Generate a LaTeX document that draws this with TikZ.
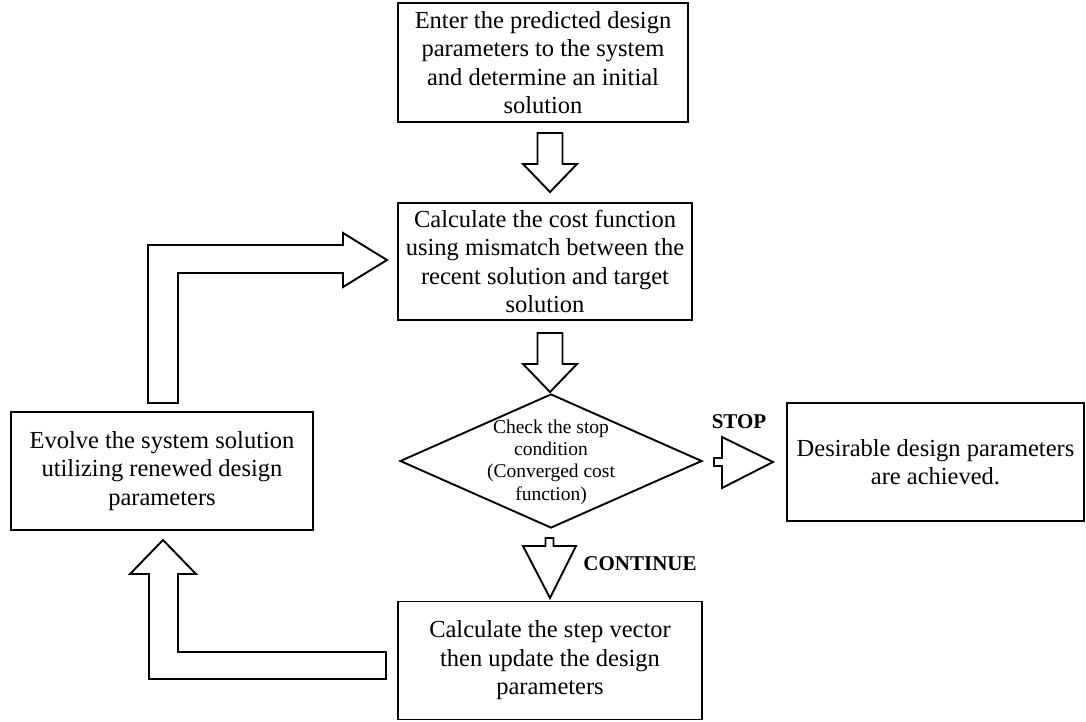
\documentclass[tikz,border=0pt]{standalone}
\usepackage{fontspec}
\setmainfont{Liberation Serif}
\usetikzlibrary{shapes.geometric}
\begin{document}
\begin{tikzpicture}[x=1pt,y=-1pt,line width=1.9pt,line join=miter,
  box/.style={draw,inner sep=0pt,align=center,font=\fontsize{24.5}{28.5}\selectfont},
  dtext/.style={align=center,inner sep=0pt,font=\fontsize{19.5}{22.3}\selectfont},
  lbl/.style={inner sep=0pt,font=\fontsize{21}{24}\selectfont\bfseries},
  blockarrow/.style={draw,fill=white,line width=1.9pt}]
\useasboundingbox (0,0) rectangle (1086,721);

% boxes
\node[box,minimum width=290pt,minimum height=119pt] (b1) at (543,62.5)
  {Enter the predicted design\\parameters to the system\\and determine an initial\\solution};
\node[box,minimum width=294pt,minimum height=117pt] (b2) at (545,261.5)
  {Calculate the cost function\\using mismatch between the\\recent solution and target\\solution};
\node[draw,diamond,inner sep=0pt,minimum width=302pt,minimum height=134pt] (dia) at (551,461) {};
\node[dtext] (diat) at (551,462) {Check the stop\\condition\\(Converged cost\\function)};
\node[box,minimum width=297pt,minimum height=118pt] (res) at (935.5,462)
  {Desirable design parameters\\are achieved.};
\node[box,minimum width=302pt,minimum height=118pt] (evo) at (162,471)
  {Evolve the system solution\\utilizing renewed design\\parameters};
\node[box,minimum width=304pt,minimum height=118pt] (upd) at (550,660.5)
  {Calculate the step vector\\then update the design\\parameters};

% labels
\node[lbl] (stop) at (739,422) {STOP};
\node[lbl] (cont) at (640,564) {CONTINUE};

% block arrows
\draw[blockarrow] (537.5,133) -- (562.5,133) -- (562.5,164) -- (577,164) -- (550,192)
  -- (523,164) -- (537.5,164) -- cycle;
\draw[blockarrow] (537.5,333) -- (562.5,333) -- (562.5,364) -- (577,364) -- (550,392)
  -- (523,364) -- (537.5,364) -- cycle;
\draw[blockarrow] (714,458) -- (722,458) -- (722,437) -- (773,462) -- (722,488)
  -- (722,466) -- (714,466) -- cycle;
\draw[blockarrow] (545.5,538) -- (553.5,538) -- (553.5,546) -- (576,546) -- (550,598)
  -- (523,546) -- (545.5,546) -- cycle;
\draw[blockarrow] (148,403) -- (148,245) -- (343,245) -- (343,233) -- (387,260)
  -- (343,287) -- (343,273) -- (178,273) -- (178,403) -- cycle;
\draw[blockarrow] (163,540) -- (196,574) -- (178,574) -- (178,652) -- (386,652)
  -- (386,679) -- (149,679) -- (149,574) -- (130,574) -- cycle;
\end{tikzpicture}
\end{document}
